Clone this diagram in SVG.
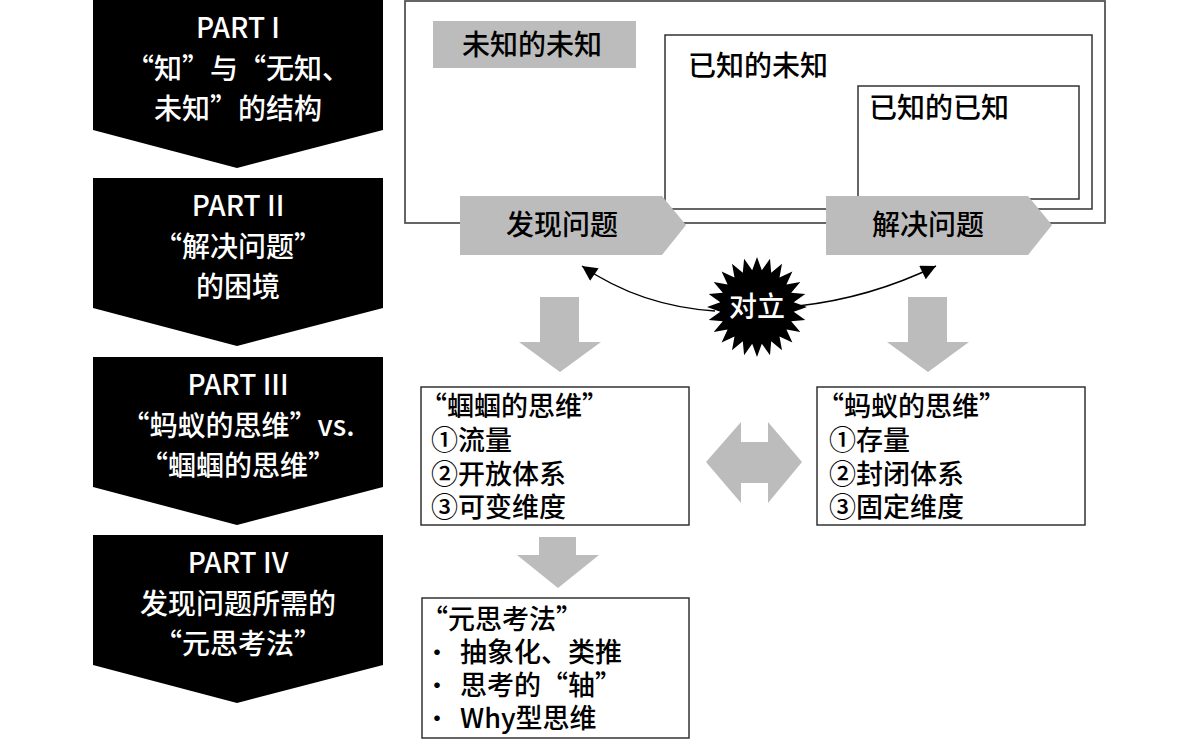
<svg xmlns="http://www.w3.org/2000/svg" width="1200" height="739" viewBox="0 0 1200 739">
<style>
text{font-family:"Noto Sans CJK SC","Noto Sans",sans-serif;font-weight:500;}
.part{fill:#000;}
.pt{fill:#fff;font-size:28px;text-anchor:middle;}
.box{fill:#fff;stroke:#333;stroke-width:1.5;}
.gray{fill:#bcbcbc;}
.bt{fill:#000;font-size:27px;}
.bul{fill:#000;font-size:22px;font-weight:700;}
.lbl{fill:#000;font-size:28px;}
.curve{fill:none;stroke:#000;stroke-width:1.5;}
</style>
<defs>
<marker id="ah" viewBox="0 0 10 10" refX="10" refY="5" markerUnits="userSpaceOnUse" markerWidth="22" markerHeight="15" orient="auto">
<path d="M0,0 L10,5 L0,10 Z" fill="#000"/>
</marker>
</defs>

<g id="part1">
<path class="part" d="M93,0 H383 V130 L237,168 L93,130 Z"/>
<text class="pt" x="238" y="38">PART I</text>
<text class="pt" x="238" y="79">“知”与“无知、</text>
<text class="pt" x="238" y="119">未知”的结构</text>
</g>
<g id="part2">
<path class="part" d="M93,178 H383 V308 L237,346 L93,308 Z"/>
<text class="pt" x="238" y="216">PART II</text>
<text class="pt" x="238" y="257">“解决问题”</text>
<text class="pt" x="238" y="297">的困境</text>
</g>
<g id="part3">
<path class="part" d="M93,357 H383 V487 L237,525 L93,487 Z"/>
<text class="pt" x="238" y="395">PART III</text>
<text class="pt" x="238" y="436">“蚂蚁的思维”vs.</text>
<text class="pt" x="238" y="476">“蝈蝈的思维”</text>
</g>
<g id="part4">
<path class="part" d="M93,535 H383 V665 L237,703 L93,665 Z"/>
<text class="pt" x="238" y="573">PART IV</text>
<text class="pt" x="238" y="614">发现问题所需的</text>
<text class="pt" x="238" y="654">“元思考法”</text>
</g>

<g id="outer">
<rect x="405" y="1" width="700" height="222" fill="#fff" stroke="#555" stroke-width="1.8"/>
</g>
<g id="unknown-unknown">
<rect class="gray" x="433" y="21" width="203" height="47"/>
<text class="lbl" x="462" y="55">未知的未知</text>
</g>
<g id="known-unknown">
<rect class="box" x="665" y="35" width="427" height="174"/>
<text class="lbl" x="688" y="76">已知的未知</text>
</g>
<g id="known-known">
<rect class="box" x="858" y="86" width="221" height="113"/>
<text class="lbl" x="869" y="118">已知的已知</text>
</g>
<g id="discover">
<path class="gray" d="M460,196 H662 L686,225 L662,255 H460 Z"/>
<text class="lbl" x="562" y="235" text-anchor="middle">发现问题</text>
</g>
<g id="solve">
<path class="gray" d="M826,196 H1028 L1052,225 L1028,255 H826 Z"/>
<text class="lbl" x="928" y="235" text-anchor="middle">解决问题</text>
</g>

<g id="connectors">
<path class="curve" d="M715,311 Q640,306 582,266" marker-end="url(#ah)"/>
<path class="curve" d="M798,306 Q870,298 936,266" marker-end="url(#ah)"/>
<path class="gray" d="M540,297 H579 V342 H601 L560,372 L519,342 H540 Z"/>
<path class="gray" d="M908,297 H947 V342 H969 L928,372 L887,342 H908 Z"/>
<path class="gray" d="M706,462 L741,422 V442 H768 V422 L802,462 L768,503 V483 H741 V503 Z"/>
<path class="gray" d="M539,537 H576 V555 H599 L558,588 L517,555 H539 Z"/>
</g>

<g id="conflict">
<polygon fill="#000" points="807,307 793.7,311.8 805.3,319.9 791.2,321.2 800.3,332 786.4,329.5 792.4,342.4 779.5,336.4 782,350.3 771.2,341.2 770,355.3 761.8,343.7 757,357 752.2,343.7 744.1,355.3 742.8,341.2 732,350.3 734.5,336.4 721.6,342.4 727.6,329.5 713.7,332 722.8,321.2 708.7,319.9 720.3,311.8 707,307 720.3,302.2 708.7,294.1 722.8,292.8 713.7,282 727.6,284.5 721.6,271.6 734.5,277.6 732,263.7 742.8,272.8 744.1,258.7 752.2,270.3 757,257 761.8,270.3 770,258.7 771.2,272.8 782,263.7 779.5,277.6 792.4,271.6 786.4,284.5 800.3,282 791.2,292.8 805.3,294.1 793.7,302.2"/>
<text x="757" y="317" fill="#fff" font-size="28" text-anchor="middle">对立</text>
</g>

<g id="katydid">
<rect class="box" x="421" y="387" width="268" height="138"/>
<text class="bt" x="420" y="416">“蝈蝈的思维”</text>
<text class="bt" x="431" y="450">①流量</text>
<text class="bt" x="431" y="484">②开放体系</text>
<text class="bt" x="431" y="517">③可变维度</text>
</g>
<g id="ant">
<rect class="box" x="817" y="387" width="268" height="138"/>
<text class="bt" x="817" y="416">“蚂蚁的思维”</text>
<text class="bt" x="829" y="450">①存量</text>
<text class="bt" x="829" y="484">②封闭体系</text>
<text class="bt" x="829" y="517">③固定维度</text>
</g>
<g id="meta">
<rect class="box" x="422" y="598" width="267" height="140"/>
<text class="bt" x="421" y="629">“元思考法”</text>
<text class="bul" x="426" y="660">•</text>
<text class="bt" x="460" y="662">抽象化、类推</text>
<text class="bul" x="426" y="693">•</text>
<text class="bt" x="460" y="695">思考的“轴”</text>
<text class="bul" x="426" y="726">•</text>
<text class="bt" x="460" y="728">Why型思维</text>
</g>
</svg>
